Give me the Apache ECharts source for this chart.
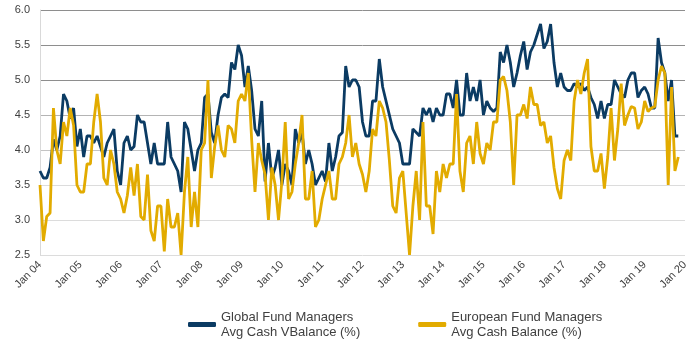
<!DOCTYPE html>
<html>
<head>
<meta charset="utf-8">
<script src="https://cdn.jsdelivr.net/npm/echarts@6/dist/echarts.min.js"></script>
<style>
  html, body { margin: 0; padding: 0; background: #fff; }
  #chart { width: 700px; height: 346px; }
</style>
</head>
<body>
<div id="chart"></div>
<script>
// tick labels, one per January
var yearLabels = ['Jan 04', 'Jan 05', 'Jan 06', 'Jan 07', 'Jan 08', 'Jan 09', 'Jan 10', 'Jan 11',
  'Jan 12', 'Jan 13', 'Jan 14', 'Jan 15', 'Jan 16', 'Jan 17', 'Jan 18', 'Jan 19', 'Jan 20'];

// monthly readings, Jan 04 .. Nov 19
var globalCash = [
  3.7, 3.6, 3.6, 3.75, 4.15, 4.0, 4.2, 4.8, 4.7, 4.45, 4.6, 4.05,
  4.3, 3.9, 4.2, 4.2, 4.1, 4.2, 4.05, 3.9, 4.1, 4.2, 4.3, 3.7,
  3.5, 4.1, 4.2, 4.0, 4.05, 4.5, 4.4, 4.4, 4.1, 3.8, 4.1, 3.8,
  3.8, 3.8, 4.4, 3.9, 3.8, 3.7, 3.4, 4.4, 4.3, 4.0, 3.7, 4.0,
  4.1, 4.75, 4.8, 4.25, 4.1, 4.5, 4.75, 4.8, 4.75, 5.25, 5.15, 5.5,
  5.35, 4.9, 5.2, 4.85, 4.3, 4.2, 4.7, 3.55, 4.1, 3.6, 3.75, 4.0,
  3.5, 3.8, 3.7, 3.5, 4.3, 4.1, 4.25, 3.8, 4.0, 3.8, 3.5, 3.6,
  3.7, 3.55, 4.1, 3.7, 3.9, 4.2, 4.25, 5.2, 4.9, 5.0, 5.0, 4.9,
  4.4, 4.2, 4.2, 4.7, 4.7, 5.3, 4.9, 4.7, 4.5, 4.3, 4.2, 4.1,
  3.8, 3.8, 3.8, 4.3, 4.25, 4.2, 4.6, 4.5, 4.6, 4.4, 4.6, 4.5,
  4.5, 4.8, 4.8, 4.6, 5.0, 4.5, 4.5, 5.1, 4.7, 4.9, 4.7, 5.0,
  4.5, 4.7, 4.6, 4.55, 4.6, 5.4, 5.25, 5.5, 5.25, 4.9, 5.1, 5.35,
  5.55, 5.15, 5.4, 5.5, 5.65, 5.8, 5.45, 5.55, 5.8, 5.25, 4.9, 5.1,
  4.9, 4.85, 4.85, 4.95, 4.9, 4.95, 4.85, 4.9, 4.75, 4.65, 4.45, 4.7,
  4.45, 4.65, 4.65, 5.0, 4.9, 4.8, 4.75, 5.0, 5.1, 5.1, 4.75, 4.85,
  4.9, 4.8, 4.6, 4.6, 5.6, 5.25, 5.1, 4.7, 5.0, 4.2, 4.2
];
var europeCash = [
  3.5, 2.7, 3.05, 3.1, 4.6, 4.0, 3.8, 4.4, 4.2, 4.6, 4.35, 3.5,
  3.4, 3.4, 3.8, 3.8, 4.4, 4.8, 4.4, 3.6, 3.5, 4.0, 3.8, 3.4,
  3.3, 3.1, 3.35, 3.75, 3.35, 3.8, 3.05, 3.0, 3.65, 2.85, 2.7, 3.2,
  3.2, 2.55, 3.3, 2.9, 2.9, 3.1, 2.5, 3.4, 3.9, 2.9, 3.4, 2.9,
  4.0, 4.1, 5.0, 3.6, 4.05, 4.35, 4.0, 3.9, 4.35, 4.3, 4.1, 4.7,
  4.8, 4.7, 5.1, 4.15, 3.4, 4.1, 3.85, 3.65, 3.0, 3.75, 3.5, 3.0,
  3.55, 4.4, 3.3, 3.4, 3.8, 4.1, 4.5, 3.3, 3.3, 3.7, 2.9, 3.0,
  3.3, 3.5, 3.7, 3.3, 3.3, 3.8, 3.9, 4.1, 4.5, 3.9, 4.1, 3.8,
  3.65, 3.4, 3.7, 4.3, 4.2, 4.7, 4.6, 4.4, 3.85, 3.2, 3.1, 3.6,
  3.7, 3.1, 2.5, 3.2, 3.7, 3.0, 4.4, 3.2, 3.2, 2.8, 3.7, 3.4,
  3.8, 3.6, 3.8, 3.8, 4.8, 3.7, 3.4, 4.1, 4.2, 3.8, 4.4, 3.95,
  3.8, 4.1, 4.0, 4.4, 4.4, 5.0, 5.05, 4.85, 4.4, 3.5, 4.5, 4.5,
  4.65, 4.45, 4.9, 4.65, 4.65, 4.35, 4.4, 4.1, 4.2, 3.75, 3.45, 3.3,
  3.85, 4.0, 3.85, 4.7, 5.0, 4.8, 5.1, 5.3, 4.05, 3.7, 3.7, 3.95,
  3.45, 3.9, 4.6, 3.85, 4.3, 4.95, 4.35, 4.5, 4.62, 4.6, 4.3, 4.4,
  4.7, 4.55, 4.6, 4.62, 5.0, 5.2, 5.1, 3.5, 4.9, 3.7, 3.9
];

var seriesNames = ['Global Fund Managers\nAvg Cash VBalance (%)', 'European Fund Managers\nAvg Cash Balance (%)'];

// one category per month, January ones carry the tick label
var months = [];
for (var y = 0; y < yearLabels.length; y++) {
  for (var m = 0; m < 12; m++) {
    if (y == yearLabels.length - 1 && m > 0) break;
    months.push(m == 0 ? yearLabels[y] : yearLabels[y] + '-' + m);
  }
}

var myChart = echarts.init(document.getElementById('chart'), null, { renderer: 'canvas' });

var option = {
  animation: false,
  textStyle: { fontFamily: 'Liberation Sans, Arial, sans-serif' },
  grid: { left: 40, right: 15, top: 10, bottom: 91 },
  legend: {
    data: seriesNames,
    left: 183,
    top: 297,
    itemGap: 58,
    itemWidth: 28,
    itemHeight: 5,
    icon: 'roundRect',
    textStyle: { color: '#404040', fontSize: 13, lineHeight: 15, padding: [15, 0, 0, 0] }
  },
  xAxis: {
    type: 'category',
    boundaryGap: false,
    data: months,
    axisLine: { show: false },
    axisTick: { show: false },
    axisLabel: {
      interval: function (i) { return i % 12 == 0; },
      rotate: 45,
      fontSize: 11,
      color: '#404040',
      margin: 8
    }
  },
  yAxis: {
    type: 'value',
    min: 2.5,
    max: 6.0,
    interval: 0.5,
    axisLine: { show: true, lineStyle: { color: '#d9d9d9' } },
    axisTick: { show: false },
    axisLabel: {
      fontSize: 11,
      color: '#404040',
      margin: 10,
      formatter: function (v) { return v.toFixed(1); }
    },
    splitLine: {
      lineStyle: {
        color: ['#dcdcdc', '#dcdcdc', '#dcdcdc', '#c4c4c4', '#b4b4b4', '#8e8e8e', '#8e8e8e', '#8e8e8e'],
        width: 1
      }
    }
  },
  series: [
    {
      name: seriesNames[0],
      type: 'line',
      data: globalCash,
      showSymbol: false,
      lineStyle: { color: '#0b3b63', width: 2.8 },
      itemStyle: { color: '#0b3b63' }
    },
    {
      name: seriesNames[1],
      type: 'line',
      data: europeCash,
      showSymbol: false,
      lineStyle: { color: '#e2ab00', width: 2.8 },
      itemStyle: { color: '#e2ab00' }
    }
  ]
};

myChart.setOption(option);
</script>
</body>
</html>
